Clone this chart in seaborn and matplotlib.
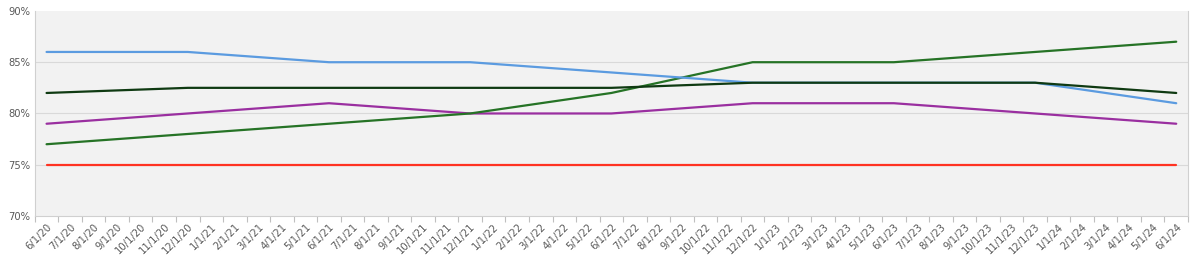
import matplotlib
matplotlib.use("Agg")
import matplotlib.pyplot as plt
import seaborn as sns
import pandas as pd
import numpy as np
from matplotlib.ticker import FixedLocator, FuncFormatter

# Monthly tick labels (6/1/20 .. 6/1/24)
tick_labels = ["6/1/20", "7/1/20", "8/1/20", "9/1/20", "10/1/20", "11/1/20", "12/1/20",
               "1/1/21", "2/1/21", "3/1/21", "4/1/21", "5/1/21", "6/1/21", "7/1/21", "8/1/21",
               "9/1/21", "10/1/21", "11/1/21", "12/1/21", "1/1/22", "2/1/22", "3/1/22", "4/1/22",
               "5/1/22", "6/1/22", "7/1/22", "8/1/22", "9/1/22", "10/1/22", "11/1/22", "12/1/22",
               "1/1/23", "2/1/23", "3/1/23", "4/1/23", "5/1/23", "6/1/23", "7/1/23", "8/1/23",
               "9/1/23", "10/1/23", "11/1/23", "12/1/23", "1/1/24", "2/1/24", "3/1/24", "4/1/24",
               "5/1/24", "6/1/24"]

# Data points (semi-annual)
dates = ["6/1/20", "12/1/20", "6/1/21", "12/1/21", "6/1/22", "12/1/22", "6/1/23", "12/1/23", "6/1/24"]
blue = [0.86, 0.86, 0.85, 0.85, 0.84, 0.83, 0.83, 0.83, 0.81]
dark_green = [0.82, 0.825, 0.825, 0.825, 0.825, 0.83, 0.83, 0.83, 0.82]
green = [0.77, 0.78, 0.79, 0.80, 0.82, 0.85, 0.85, 0.86, 0.87]
purple = [0.79, 0.80, 0.81, 0.80, 0.80, 0.81, 0.81, 0.80, 0.79]
red = [0.75, 0.75, 0.75, 0.75, 0.75, 0.75, 0.75, 0.75, 0.75]

series = {"Blue": blue, "DarkGreen": dark_green, "Green": green, "Purple": purple, "Red": red}
colors = {"Blue": "#5B9BE0", "DarkGreen": "#0F3A12", "Green": "#267326",
          "Purple": "#9A2FA0", "Red": "#FF3322"}

rows = []
for name, vals in series.items():
    for d, v in zip(dates, vals):
        rows.append({"pos": tick_labels.index(d), "value": v, "series": name})
df = pd.DataFrame(rows)

sns.set_theme(style="white")
plt.rcParams["font.family"] = ["DejaVu Sans"]

fig = plt.figure(figsize=(12, 2.67), dpi=100)
ax = fig.add_axes([0.029, 0.191, 0.961, 0.768])
ax.set_facecolor("#F2F2F2")

sns.lineplot(data=df, x="pos", y="value", hue="series", palette=colors,
             hue_order=["Red", "Purple", "Green", "Blue", "DarkGreen"],
             linewidth=1.6, legend=False, ax=ax)

ax.set_xlim(-0.5, len(tick_labels) - 0.5)
ax.set_ylim(0.70, 0.90)
ax.set_yticks([0.70, 0.75, 0.80, 0.85, 0.90])
ax.yaxis.set_major_formatter(FuncFormatter(lambda v, p: f"{v*100:.0f}%"))
ax.set_xticks(range(len(tick_labels)))
ax.set_xticklabels(tick_labels, rotation=45, ha="right", rotation_mode="anchor")
ax.xaxis.set_minor_locator(FixedLocator(np.arange(-0.5, len(tick_labels), 1)))
ax.tick_params(axis="x", which="major", length=0, pad=4, labelsize=7.2, labelcolor="#595959")
ax.tick_params(axis="x", which="minor", length=4, color="#BFBFBF", width=0.8, bottom=True)
ax.tick_params(axis="y", length=0, pad=3, labelsize=7.2, labelcolor="#595959")
ax.set_xlabel("")
ax.set_ylabel("")

ax.grid(axis="y", color="#D9D9D9", linewidth=0.8)
ax.set_axisbelow(True)
gl = ax.get_ygridlines()
gl[0].set_visible(False)
gl[-1].set_visible(False)
ax.spines["top"].set_visible(False)
for s in ["left", "right", "bottom"]:
    ax.spines[s].set_color("#D0D0D0")
    ax.spines[s].set_linewidth(0.8)

fig.savefig("out.png", dpi=100, facecolor="white")
